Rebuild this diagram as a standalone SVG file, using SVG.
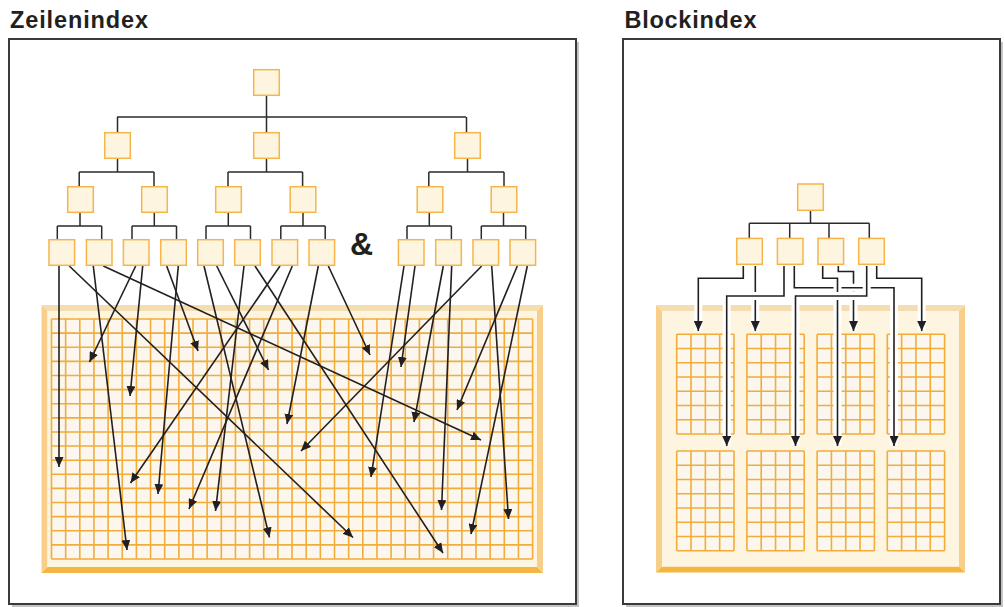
<svg xmlns="http://www.w3.org/2000/svg" xmlns:xlink="http://www.w3.org/1999/xlink" width="1005" height="607" viewBox="0 0 1005 607">
<style>
.title{font-family:"Liberation Sans",Arial,Helvetica,sans-serif;font-weight:bold;font-size:23.5px;fill:#231f20}
.amp{font-family:"Liberation Sans",Arial,Helvetica,sans-serif;font-weight:bold;font-size:32px;fill:#231f20}
.frame{fill:#ffffff;stroke:#3a3a3a;stroke-width:2}
.shadow{fill:#c4c4c4}
.node{fill:#fdf5e0;stroke:#f5b54a;stroke-width:1.5}
.tree{fill:none;stroke:#2b2b2b;stroke-width:1.5}
.arr{fill:none;stroke:#231f20;stroke-width:1.6;marker-end:url(#ah)}
.halo{fill:none;stroke:#ffffff;stroke-width:8}
.grid{fill:none;stroke:#f2ac3a;stroke-width:1.6}
.cells{fill:#fbf7ee}
.inner{fill:#fdf5e0}
.btop{fill:#f3ddb1}
.bside{fill:#f7cf8a}
.bbot{fill:#f5b641}
</style>
<defs>
<marker id="ah" markerUnits="userSpaceOnUse" viewBox="0 0 10 9" markerWidth="10" markerHeight="9" refX="10" refY="4.5" orient="auto">
<path d="M0,0 L10,4.5 L0,9 z" fill="#231f20"/>
</marker>
<g id="blk">
<rect class="cells" x="0" y="0" width="57.3" height="99.7"/>
<path class="grid" d="M0,0v99.7m14.325,-99.7v99.7m14.325,-99.7v99.7m14.325,-99.7v99.7m14.325,-99.7v99.7M0,0h57.3m-57.3,14.243h57.3m-57.3,14.243h57.3m-57.3,14.243h57.3m-57.3,14.243h57.3m-57.3,14.243h57.3m-57.3,14.243h57.3m-57.3,14.243h57.3"/>
</g>
</defs>

<!-- Left panel -->
<text class="title" x="10" y="28.3" textLength="138" lengthAdjust="spacing">Zeilenindex</text>
<rect class="shadow" x="12" y="42" width="567" height="565"/>
<rect class="frame" x="9" y="39" width="567" height="565"/>

<g id="table-left">
<polygon class="btop" points="41.5,305 543,305 537,311 47.5,311"/>
<polygon class="bside" points="41.5,305 47.5,311 47.5,567 41.5,573"/>
<polygon class="bside" points="543,305 543,573 537,567 537,311"/>
<polygon class="bbot" points="41.5,573 543,573 537,567 47.5,567"/>
<rect class="inner" x="47.5" y="311" width="489.5" height="256"/>
<rect class="cells" x="51.5" y="319" width="481.1" height="240"/>
<path class="grid" d="M51.5,319v240m14.15,-240v240m14.15,-240v240m14.15,-240v240m14.15,-240v240m14.15,-240v240m14.15,-240v240m14.15,-240v240m14.15,-240v240m14.15,-240v240m14.15,-240v240m14.15,-240v240m14.15,-240v240m14.15,-240v240m14.15,-240v240m14.15,-240v240m14.15,-240v240m14.15,-240v240m14.15,-240v240m14.15,-240v240m14.15,-240v240m14.15,-240v240m14.15,-240v240m14.15,-240v240m14.15,-240v240m14.15,-240v240m14.15,-240v240m14.15,-240v240m14.15,-240v240m14.15,-240v240m14.15,-240v240m14.15,-240v240m14.15,-240v240m14.15,-240v240m14.15,-240v240"/>
<path class="grid" d="M51.5,319H532.6M51.5,333.12H532.6M51.5,347.24H532.6M51.5,361.35H532.6M51.5,375.47H532.6M51.5,389.59H532.6M51.5,403.71H532.6M51.5,417.83H532.6M51.5,431.94H532.6M51.5,446.06H532.6M51.5,460.18H532.6M51.5,474.3H532.6M51.5,488.42H532.6M51.5,502.53H532.6M51.5,516.65H532.6M51.5,530.77H532.6M51.5,544.89H532.6M51.5,559H532.6"/>
</g>

<g id="connectors-left">
<path class="tree" d="M266.5,96V117M117,117H466M117.5,117V132M266.5,117V132M466.5,117V132"/>
<path class="tree" d="M117.5,159V172M79.2,172H154M79.2,172V186M154,172V186"/>
<path class="tree" d="M266.5,159V172M228,172H302.6M228,172V186M302.6,172V186"/>
<path class="tree" d="M467.5,159V172M428.8,172H504M428.8,172V186M504,172V186"/>
<path class="tree" d="M80,213V226M57.3,226H101.7M57.3,226V239M101.7,226V239"/>
<path class="tree" d="M154.3,213V226M132,226H176.5M132,226V239M176.5,226V239"/>
<path class="tree" d="M228.3,213V226M206,226H250.5M206,226V239M250.5,226V239"/>
<path class="tree" d="M303,213V226M280.8,226H325.2M280.8,226V239M325.2,226V239"/>
<path class="tree" d="M429.3,213V226M407,226H451.4M407,226V239M451.4,226V239"/>
<path class="tree" d="M503.5,213V226M481.3,226H525.7M481.3,226V239M525.7,226V239"/>
<path class="arr" d="M59,266L59,467"/>
<path class="arr" d="M69.3,266L353,537.5"/>
<path class="arr" d="M93.3,266L127,550"/>
<path class="arr" d="M103.3,266L481,440"/>
<path class="arr" d="M135.7,266L89.5,362"/>
<path class="arr" d="M142.7,266L130,396"/>
<path class="arr" d="M166.7,266L198,351"/>
<path class="arr" d="M178.3,266L158,494"/>
<path class="arr" d="M204,266L269.5,537.5"/>
<path class="arr" d="M216.7,266L268.5,370"/>
<path class="arr" d="M244,266L215.5,511"/>
<path class="arr" d="M255,266L443,553"/>
<path class="arr" d="M280,266L130.5,483"/>
<path class="arr" d="M292.3,266L189,509"/>
<path class="arr" d="M318.3,266L287,424"/>
<path class="arr" d="M328.3,266L370,355"/>
<path class="arr" d="M404,266L371,477"/>
<path class="arr" d="M415,266L401,367"/>
<path class="arr" d="M443.3,266L414,422"/>
<path class="arr" d="M451.7,266L441.5,510"/>
<path class="arr" d="M481.7,266L301,451"/>
<path class="arr" d="M491.7,266L508.5,519"/>
<path class="arr" d="M517.3,266L457,410"/>
<path class="arr" d="M527.3,266L471,534"/>
</g>

<g id="left-root"><rect class="node" x="253.7" y="69.7" width="25.6" height="25.6"/></g>
<g id="left-l1-1"><rect class="node" x="104.7" y="132.7" width="25.6" height="25.6"/></g>
<g id="left-l1-2"><rect class="node" x="253.7" y="132.7" width="25.6" height="25.6"/></g>
<g id="left-l1-3"><rect class="node" x="454.7" y="132.7" width="25.6" height="25.6"/></g>
<g id="left-l2-1"><rect class="node" x="67.7" y="186.7" width="25.6" height="25.6"/></g>
<g id="left-l2-2"><rect class="node" x="141.7" y="186.7" width="25.6" height="25.6"/></g>
<g id="left-l2-3"><rect class="node" x="215.7" y="186.7" width="25.6" height="25.6"/></g>
<g id="left-l2-4"><rect class="node" x="290.2" y="186.7" width="25.6" height="25.6"/></g>
<g id="left-l2-5"><rect class="node" x="417.2" y="186.7" width="25.6" height="25.6"/></g>
<g id="left-l2-6"><rect class="node" x="491.2" y="186.7" width="25.6" height="25.6"/></g>
<g id="left-l3-1"><rect class="node" x="49" y="239.7" width="25.6" height="25.6"/></g>
<g id="left-l3-2"><rect class="node" x="86.4" y="239.7" width="25.6" height="25.6"/></g>
<g id="left-l3-3"><rect class="node" x="123.4" y="239.7" width="25.6" height="25.6"/></g>
<g id="left-l3-4"><rect class="node" x="160.7" y="239.7" width="25.6" height="25.6"/></g>
<g id="left-l3-5"><rect class="node" x="197.7" y="239.7" width="25.6" height="25.6"/></g>
<g id="left-l3-6"><rect class="node" x="234.7" y="239.7" width="25.6" height="25.6"/></g>
<g id="left-l3-7"><rect class="node" x="272" y="239.7" width="25.6" height="25.6"/></g>
<g id="left-l3-8"><rect class="node" x="309" y="239.7" width="25.6" height="25.6"/></g>
<g id="left-l3-9"><rect class="node" x="398.4" y="239.7" width="25.6" height="25.6"/></g>
<g id="left-l3-10"><rect class="node" x="435.7" y="239.7" width="25.6" height="25.6"/></g>
<g id="left-l3-11"><rect class="node" x="473" y="239.7" width="25.6" height="25.6"/></g>
<g id="left-l3-12"><rect class="node" x="510" y="239.7" width="25.6" height="25.6"/></g>
<text class="amp" x="350" y="255">&amp;</text>

<!-- Right panel -->
<text class="title" x="624.5" y="28.3" textLength="132" lengthAdjust="spacing">Blockindex</text>
<rect class="shadow" x="626" y="42" width="377" height="565"/>
<rect class="frame" x="623" y="39" width="377" height="565"/>

<g id="table-right">
<polygon class="btop" points="656,305 965,305 959,311 662,311"/>
<polygon class="bside" points="656,305 662,311 662,566.5 656,572.5"/>
<polygon class="bside" points="965,305 965,572.5 959,566.5 959,311"/>
<polygon class="bbot" points="656,572.5 965,572.5 959,566.5 662,566.5"/>
<rect class="inner" x="662" y="311" width="297" height="255.5"/>
<use xlink:href="#blk" x="676.7" y="334.3"/>
<use xlink:href="#blk" x="746.9" y="334.3"/>
<use xlink:href="#blk" x="817.1" y="334.3"/>
<use xlink:href="#blk" x="887.3" y="334.3"/>
<use xlink:href="#blk" x="676.7" y="451"/>
<use xlink:href="#blk" x="746.9" y="451"/>
<use xlink:href="#blk" x="817.1" y="451"/>
<use xlink:href="#blk" x="887.3" y="451"/>
</g>

<g id="connectors-right">
<path class="tree" d="M810.5,211V223.3M749.3,223.3H869.3M749.3,223.3V238M789.7,223.3V238M829,223.3V238M869.3,223.3V238"/>
<path class="halo" d="M743.3,266V278.3H698.3V331"/><path class="arr" d="M743.3,266V278.3H698.3V331"/>
<path class="halo" d="M755.3,266V331"/><path class="arr" d="M755.3,266V331"/>
<path class="halo" d="M838.3,266V271.5H853.5V331"/><path class="arr" d="M838.3,266V271.5H853.5V331"/>
<path class="halo" d="M794.3,266V287.7H894V446"/><path class="arr" d="M794.3,266V287.7H894V446"/>
<path class="halo" d="M784,266V296H726.7V446"/><path class="arr" d="M784,266V296H726.7V446"/>
<path class="halo" d="M822.7,266V278.3H837.5V446"/><path class="arr" d="M822.7,266V278.3H837.5V446"/>
<path class="halo" d="M866.7,266V296H795.5V446"/><path class="arr" d="M866.7,266V296H795.5V446"/>
<path class="halo" d="M876.7,266V278.3H921.7V331"/><path class="arr" d="M876.7,266V278.3H921.7V331"/>
</g>

<g id="right-root"><rect class="node" x="797.7" y="184" width="25.6" height="26.3"/></g>
<g id="right-c1"><rect class="node" x="736.7" y="238.4" width="25.6" height="25.9"/></g>
<g id="right-c2"><rect class="node" x="777.4" y="238.4" width="25.6" height="25.9"/></g>
<g id="right-c3"><rect class="node" x="818" y="238.4" width="25.6" height="25.9"/></g>
<g id="right-c4"><rect class="node" x="858.7" y="238.4" width="25.6" height="25.9"/></g>
</svg>
